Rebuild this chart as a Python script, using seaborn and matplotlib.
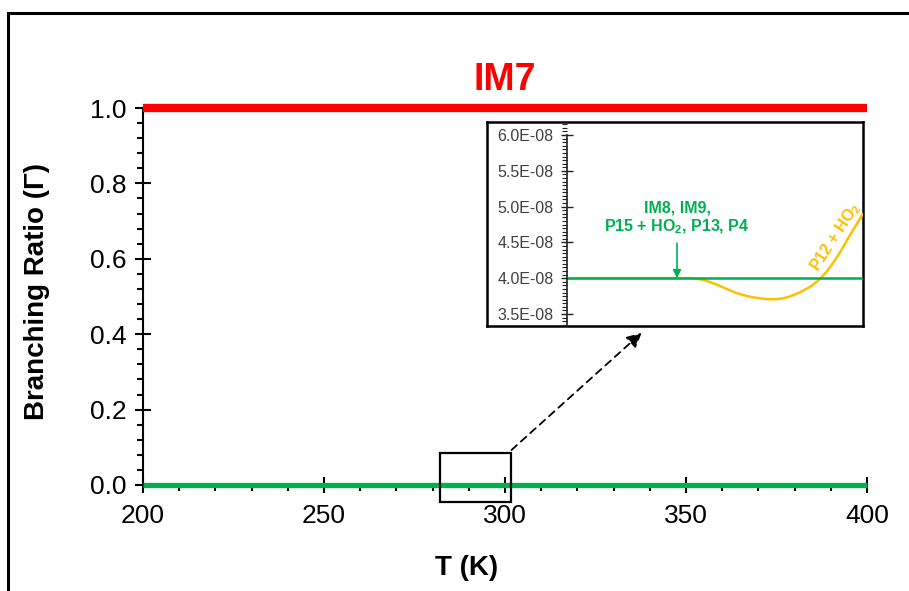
import numpy as np
import pandas as pd
import matplotlib
matplotlib.use("Agg")
import matplotlib.pyplot as plt
import seaborn as sns
from matplotlib.patches import Rectangle
from matplotlib.ticker import MultipleLocator, FuncFormatter

# ---- data ----
T_main = [200, 250, 300, 350, 400]
im7 = [1.0, 1.0, 1.0, 1.0, 1.0]
others = [0.0, 0.0, 0.0, 0.0, 0.0]

T_inset = [282.0, 288.0, 290.0, 290.5, 291.0, 291.5, 292.0, 292.5, 293.0, 293.5, 294.0,
           294.5, 295.0, 295.5, 296.0, 296.5, 297.0, 297.5, 298.0, 298.5, 299.0, 299.5,
           300.0, 300.5, 301.0, 301.5, 302.0]
p12_ho2 = [4.000e-8, 4.000e-8, 4.000e-8, 3.997e-8, 3.985e-8, 3.958e-8, 3.920e-8, 3.875e-8,
           3.830e-8, 3.790e-8, 3.760e-8, 3.735e-8, 3.720e-8, 3.708e-8, 3.705e-8, 3.715e-8,
           3.740e-8, 3.780e-8, 3.830e-8, 3.890e-8, 3.970e-8, 4.080e-8, 4.220e-8, 4.380e-8,
           4.560e-8, 4.730e-8, 4.900e-8]
T_flat = [282.0, 302.0]
flat_green = [4.0e-8, 4.0e-8]

x_ticks = [200, 250, 300, 350, 400]
y_ticks = [0.0, 0.2, 0.4, 0.6, 0.8, 1.0]
inset_yticks = [3.5e-8, 4.0e-8, 4.5e-8, 5.0e-8, 5.5e-8, 6.0e-8]

RED = "#FF0000"
GREEN = "#00B050"
ORANGE = "#FFC000"

sns.set_theme(style="white")
plt.rcParams["font.family"] = ["Liberation Sans", "DejaVu Sans"]
plt.rcParams["mathtext.fontset"] = "custom"
plt.rcParams["mathtext.rm"] = "Liberation Sans"
plt.rcParams["mathtext.bf"] = "Liberation Sans:bold"
plt.rcParams["mathtext.it"] = "Liberation Sans:italic"
plt.rcParams["text.color"] = "black"
plt.rcParams["axes.labelcolor"] = "black"
plt.rcParams["xtick.color"] = "black"
plt.rcParams["ytick.color"] = "black"

W, H = 909, 591
fig = plt.figure(figsize=(W / 100, H / 100), dpi=100)
fig.patch.set_facecolor("white")

# outer frame
fig.add_artist(Rectangle((8 / W, -0.1), 1.2, (H - 13) / H + 0.1, transform=fig.transFigure,
                         fill=False, lw=2.2, ec="black"))

# ---- main axes ----
ax = fig.add_axes([143 / W, 1 - 485 / H, 724 / W, 377 / H])
df_main = pd.DataFrame({"T": T_main, "IM7": im7, "others": others})
sns.lineplot(data=df_main, x="T", y="IM7", color=RED, lw=6, ax=ax)
sns.lineplot(data=df_main, x="T", y="others", color=GREEN, lw=3.8, ax=ax)
for ln in ax.lines:
    ln.set_clip_on(False)
    ln.set_solid_capstyle("butt")
    ln.set_zorder(4)
ax.set_xlim(200, 400)
ax.set_ylim(0, 1.0)
for s in ["top", "right"]:
    ax.spines[s].set_visible(False)
for s in ["left", "bottom"]:
    ax.spines[s].set_color("black")
    ax.spines[s].set_linewidth(1.5)
ax.set_xticks(x_ticks)
ax.set_yticks(y_ticks)
ax.set_yticklabels([f"{v:.1f}" for v in y_ticks])
ax.xaxis.set_minor_locator(MultipleLocator(10))
ax.yaxis.set_minor_locator(MultipleLocator(0.04))
ax.tick_params(which="both", bottom=True, left=True, top=False, right=False)
ax.tick_params(which="major", direction="inout", length=12, width=1.5, color="black",
               labelsize=19, labelcolor="black")
ax.tick_params(which="minor", direction="out", length=4, width=1.5, color="black")
ax.tick_params(axis="x", which="major", pad=8)
ax.tick_params(axis="y", which="major", pad=6)
ax.set_xlabel("T (K)", fontsize=20, fontweight="bold")
ax.set_ylabel("Branching Ratio (Γ)", fontsize=20, fontweight="bold")
ax.xaxis.set_label_coords((467 - 143) / 724, -(555 - 485) / 377)
ax.yaxis.set_label_coords(-(143 - 50) / 724, (485 - 292) / 377)
ax.text(0.5, 1.0 + (108 - 80) / 377, "IM7", transform=ax.transAxes, ha="center",
        va="center", fontsize=27, fontweight="bold", color=RED)

# zoom box in main plot
ax.add_patch(Rectangle((282.0, -0.046), 19.6, 0.130, fill=False, lw=1.6, ec="black",
                       clip_on=False, zorder=5))

# dashed arrow
ax.annotate("", xy=(641.7 / W, 1 - 332.7 / H), xytext=(511.5 / W, 1 - 450 / H),
            xycoords="figure fraction", textcoords="figure fraction",
            arrowprops=dict(arrowstyle="-|>", ls=(0, (4, 3)), lw=1.3, color="black",
                            mutation_scale=22, shrinkA=0, shrinkB=0))

# ---- inset frame ----
axf = fig.add_axes([487 / W, 1 - 326 / H, 376 / W, 204 / H])
axf.set_xticks([])
axf.set_yticks([])
axf.set_facecolor("white")
for s in axf.spines.values():
    s.set_visible(True)
    s.set_color("black")
    s.set_linewidth(1.8)

# ---- inset axes ----
axi = fig.add_axes([567 / W, 1 - 326 / H, 296 / W, 204 / H])
axi.patch.set_alpha(0)
df_in = pd.DataFrame({"T": T_inset, "P12": p12_ho2})
df_flat = pd.DataFrame({"T": T_flat, "G": flat_green})
sns.lineplot(data=df_in, x="T", y="P12", color=ORANGE, lw=1.8, ax=axi)
sns.lineplot(data=df_flat, x="T", y="G", color=GREEN, lw=1.8, ax=axi)
axi.set_xlim(282, 302)
axi.set_ylim(3.332e-8, 6.182e-8)
axi.set_xlabel("")
axi.set_ylabel("")
for s in ["top", "right", "bottom"]:
    axi.spines[s].set_visible(False)
axi.spines["left"].set_color("#222222")
axi.spines["left"].set_linewidth(1.2)
axi.spines["left"].set_bounds(3.332e-8, 6.0e-8)
axi.set_xticks([])
axi.set_yticks(inset_yticks)
axi.yaxis.set_major_formatter(FuncFormatter(lambda v, p: f"{v:.1E}"))
axi.yaxis.set_minor_locator(MultipleLocator(5e-10))
axi.tick_params(axis="y", which="both", left=True, right=False)
axi.tick_params(axis="y", which="major", direction="inout", length=9, width=1.0,
                color="#222222", labelsize=11.5, labelcolor="#404040", pad=5)
axi.tick_params(axis="y", which="minor", direction="out", length=3.5, width=0.8,
                color="#222222")

def iy(px):
    return 6.182e-8 - (px - 122) / 71.4 * 1e-8

def ix(px):
    return 282 + (px - 567) / 14.8

axi.text(ix(677), iy(208), "IM8, IM9,", ha="center", va="center", fontsize=11.5,
         fontweight="bold", color=GREEN)
axi.text(ix(677), iy(227), r"P15 + HO$_\mathbf{2}$, P13, P4", ha="center", va="center",
         fontsize=11.5, fontweight="bold", color=GREEN)
axi.annotate("", xy=(ix(677), 4.0e-8), xytext=(ix(677), iy(243)),
             arrowprops=dict(arrowstyle="-|>", lw=1.2, color=GREEN, mutation_scale=12,
                             shrinkA=0, shrinkB=0))
axi.text(ix(836), iy(237), r"P12 + HO$_\mathbf{2}$", ha="center", va="center", rotation=57,
         fontsize=11.5, fontweight="bold", color=ORANGE)

fig.savefig("out.png", dpi=100)
